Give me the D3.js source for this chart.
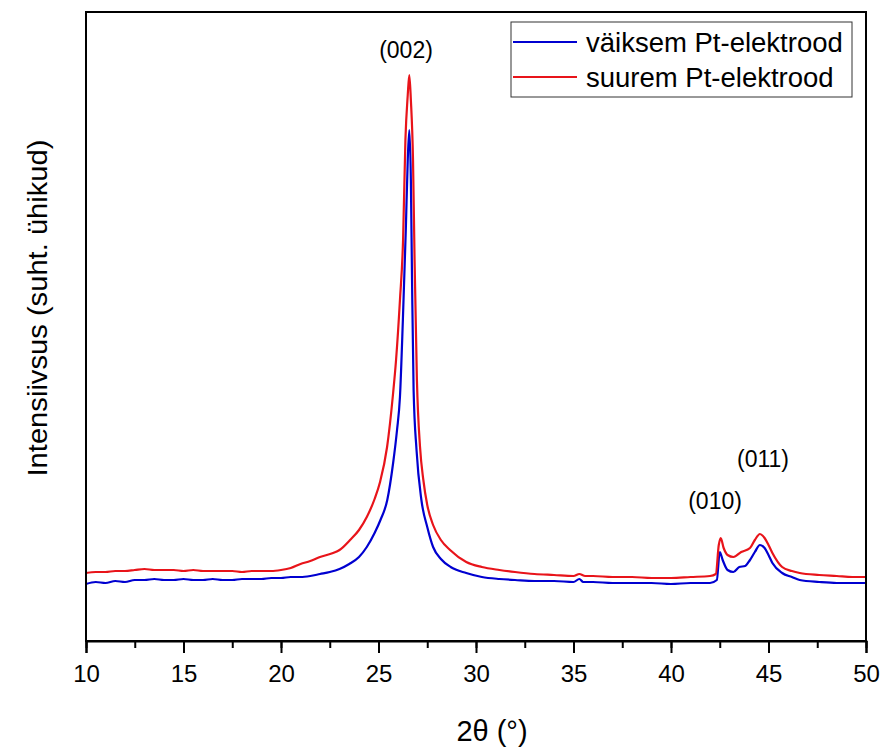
<!DOCTYPE html>
<html lang="en">
<head>
    <meta charset="UTF-8">
    <title>XRD</title>
    <style>
        body { margin: 0; background: #fff; }
        svg text { font-family: "Liberation Sans", Arial, sans-serif; fill: #000; }
    </style>
</head>
<body>
    <script src="https://cdn.jsdelivr.net/npm/d3@7"></script>
    <div id="chart"></div>
    <script>
        // 2θ (deg) and intensity (arb. units)
        const smallTheta = [10, 10.5, 11, 11.5, 12, 12.5, 13, 13.5, 14, 14.5, 15, 15.5, 16, 16.5, 17, 17.5, 18, 18.5, 19, 19.5,
            20, 20.5, 21, 21.5, 22, 22.5, 23, 23.5, 24, 24.4, 24.8, 25.1, 25.45, 25.75, 25.95, 26.1, 26.25, 26.4, 26.5, 26.58,
            26.66, 26.72, 26.8, 26.95, 27.2, 27.5, 27.8, 28.2, 28.7, 29.5, 30.3, 31.2, 32, 33, 34, 35, 35.3, 35.5, 36, 37,
            38, 39, 40, 41, 42, 42.35, 42.5, 42.65, 42.9, 43.2, 43.5, 43.8, 44.05, 44.3, 44.56, 44.8, 45.0, 45.2, 45.7, 46.2,
            46.6, 47.6, 48.5, 49.3, 50];
        const smallInt = [570, 590, 580, 600, 590, 610, 610, 620, 610, 610, 620, 610, 610, 620, 610, 610, 620, 620, 620, 630,
            630, 640, 640, 650, 670, 690, 720, 770, 840, 940, 1080, 1210, 1410, 1780, 2110, 2440, 3210, 4110, 4810, 5110,
            4610, 3610, 2510, 1910, 1410, 1140, 940, 820, 740, 680, 640, 620, 610, 600, 600, 590, 620, 590, 590, 580,
            580, 580, 570, 580, 580, 610, 890, 810, 710, 690, 740, 750, 810, 890, 960, 930, 860, 780, 680, 640,
            610, 590, 580, 580, 580];

        const largeTheta = [10, 10.5, 11, 11.5, 12, 12.5, 13, 13.5, 14, 14.5, 15, 15.5, 16, 16.5, 17, 17.5, 18, 18.5, 19, 19.5,
            20, 20.5, 21, 21.5, 22, 22.67, 23, 23.54, 24, 24.4, 24.8, 25.08, 25.44, 25.74, 25.9, 26.1, 26.26, 26.38, 26.5, 26.58,
            26.66, 26.77, 26.85, 26.97, 27.13, 27.3, 27.5, 27.8, 28.2, 28.67, 29.5, 30.3, 31.2, 32, 33, 34, 35, 35.3, 35.6, 36,
            37, 38, 39, 40, 41, 42, 42.3, 42.45, 42.55, 42.7, 42.9, 43.2, 43.6, 44.05, 44.3, 44.56, 44.8, 45.0, 45.2, 45.7,
            46.2, 46.6, 47.6, 48.5, 49.3, 50];
        const largeInt = [680, 690, 690, 700, 700, 710, 720, 710, 710, 710, 700, 710, 700, 700, 700, 700, 690, 700, 700, 700,
            710, 730, 770, 800, 840, 880, 910, 1010, 1110, 1240, 1420, 1590, 1940, 2460, 2810, 3410, 4010, 5010, 5460, 5660,
            5410, 4810, 3810, 2610, 1940, 1610, 1360, 1160, 1010, 910, 790, 740, 710, 690, 670, 660, 650, 670, 650, 650,
            640, 640, 630, 630, 640, 650, 670, 960, 1030, 930, 860, 840, 890, 930, 1010, 1070, 1030, 960, 880, 740,
            700, 680, 660, 650, 640, 640];

        const seriesNames = ["väiksem Pt-elektrood", "suurem Pt-elektrood"];
        const seriesColors = ["#0000d0", "#e8141a"];
        const xTicks = [10, 15, 20, 25, 30, 35, 40, 45, 50];
        const peakLabels = [
            { text: "(002)", theta: 26.41, val: 5830 },
            { text: "(010)", theta: 42.26, val: 1320 },
            { text: "(011)", theta: 44.72, val: 1740 }
        ];

        const width = 885, height = 751;
        const margin = { top: 12, right: 19, bottom: 110, left: 86 };

        const x = d3.scaleLinear().domain([10, 50]).range([margin.left, width - margin.right]);
        const y = d3.scaleLinear().domain([0, 6290]).range([height - margin.bottom, margin.top]);

        const svg = d3.select("#chart").append("svg")
            .attr("width", width)
            .attr("height", height);

        const series = [
            { name: seriesNames[0], color: seriesColors[0], pts: d3.zip(smallTheta, smallInt) },
            { name: seriesNames[1], color: seriesColors[1], pts: d3.zip(largeTheta, largeInt) }
        ];

        const line = d3.line().x(d => x(d[0])).y(d => y(d[1])).curve(d3.curveMonotoneX);

        svg.append("g")
            .selectAll("path")
            .data(series)
            .join("path")
            .attr("fill", "none")
            .attr("stroke", d => d.color)
            .attr("stroke-width", 2.2)
            .attr("stroke-linejoin", "round")
            .attr("d", d => line(d.pts));

        // frame
        svg.append("rect")
            .attr("x", margin.left)
            .attr("y", margin.top)
            .attr("width", width - margin.left - margin.right)
            .attr("height", height - margin.top - margin.bottom)
            .attr("fill", "none")
            .attr("stroke", "#000")
            .attr("stroke-width", 2);

        // x axis: minor ticks every 2.5, labelled ticks every 5
        const xAxis = svg.append("g")
            .attr("transform", `translate(0,${height - margin.bottom})`);
        xAxis.call(d3.axisBottom(x).tickValues(d3.range(10, 50.1, 2.5)).tickSize(7).tickFormat(""))
            .call(g => g.select(".domain").remove())
            .call(g => g.selectAll("line").attr("stroke-width", 2));
        xAxis.append("g")
            .call(d3.axisBottom(x).tickValues(xTicks).tickSize(12).tickPadding(12).tickFormat(d3.format("d")))
            .call(g => g.select(".domain").attr("stroke-width", 2))
            .call(g => g.selectAll("line").attr("stroke-width", 2))
            .call(g => g.selectAll("text").attr("font-size", 24).attr("fill", "#000")
                .attr("font-family", "'Liberation Sans', Arial, sans-serif"));

        svg.append("text")
            .attr("x", 492)
            .attr("y", 741)
            .attr("text-anchor", "middle")
            .attr("font-size", 29)
            .text("2θ (°)");

        svg.append("text")
            .attr("transform", "translate(47,308) rotate(-90)")
            .attr("text-anchor", "middle")
            .attr("font-size", 27)
            .attr("textLength", 337)
            .attr("lengthAdjust", "spacingAndGlyphs")
            .text("Intensiivsus (suht. ühikud)");

        // peak labels
        svg.append("g")
            .selectAll("text")
            .data(peakLabels)
            .join("text")
            .attr("x", d => x(d.theta))
            .attr("y", d => y(d.val))
            .attr("text-anchor", "middle")
            .attr("font-size", 23)
            .text(d => d.text);

        // legend
        const legend = svg.append("g").attr("transform", "translate(511,22)");
        legend.append("rect")
            .attr("width", 341)
            .attr("height", 75)
            .attr("fill", "#fff")
            .attr("stroke", "#333")
            .attr("stroke-width", 1);
        const item = legend.selectAll("g.item")
            .data(series)
            .join("g")
            .attr("class", "item")
            .attr("transform", (d, i) => `translate(0,${20 + i * 35})`);
        item.append("line")
            .attr("x1", 2).attr("x2", 66)
            .attr("stroke", d => d.color)
            .attr("stroke-width", 2);
        item.append("text")
            .attr("x", 75)
            .attr("dy", "0.35em")
            .attr("font-size", 27.5)
            .text(d => d.name);
    </script>
</body>
</html>
